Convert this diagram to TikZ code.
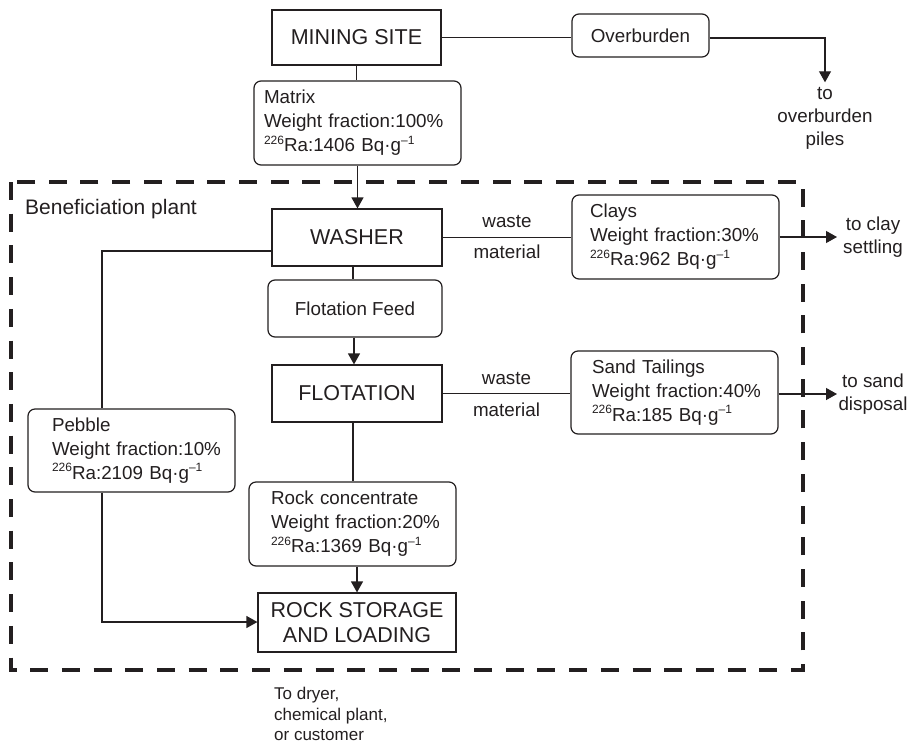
\documentclass[tikz,border=0pt]{standalone}
\usepackage{fontspec}
\setmainfont{Liberation Sans}
\usetikzlibrary{arrows.meta}
\definecolor{ink}{HTML}{231F20}
\newcommand\supr[1]{\raisebox{7.5pt}{\fontsize{12}{12}\selectfont #1}}
\begin{document}
\begin{tikzpicture}[x=1pt,y=-1pt,
  every node/.style={text=ink, font=\fontsize{18.8}{24}\selectfont},
  conn/.style={draw=ink, line width=1.2pt},
  arr/.style={conn, -{Triangle[length=11pt,width=12pt]}},
  sbox/.style={draw=ink, line width=1.2pt, fill=white, inner sep=0pt, align=center, font=\fontsize{21.5}{25}\selectfont},
  rbox/.style={draw=ink, line width=1.2pt, fill=white, rounded corners=7pt, inner ysep=0pt},
  tbox/.style={rbox, minimum width=207pt, text width=203pt, inner xsep=2pt, align=left},
  sidetext/.style={align=center, inner sep=0pt, font=\fontsize{18.8}{23}\selectfont},
  plant/.style={draw=ink, line width=4pt, dash pattern=on 18pt off 13.7pt},
]
\fill[white] (0,0) rectangle (915,745);
\useasboundingbox (0,0) rectangle (915,745);

% beneficiation plant boundary
\draw[plant] (11,182) rectangle (803,670);
\node[anchor=base west, inner sep=0pt, font=\fontsize{21}{25}\selectfont] (bp) at (25,214) {Beneficiation plant};

% nodes
\node[sbox, minimum width=169pt, minimum height=55pt] (mining) at (356.5,37.5) {MINING SITE};
\node[rbox, minimum width=137pt, minimum height=43pt] (over) at (640.5,35.5) {Overburden};
\node[sidetext] (tob) at (825,118.5) {to\\overburden\\piles};
\node[tbox, minimum height=84pt] (matrix) at (357.5,123) {\leftskip=8pt\relax Matrix\\Weight fraction:100\%\\\supr{226}Ra:1406 Bq·g\supr{–1}\par};
\node[sbox, minimum width=170pt, minimum height=57pt] (washer) at (357,237.5) {WASHER};
\node[tbox, minimum height=84pt] (clays) at (675.5,237) {\leftskip=16pt\relax Clays\\Weight fraction:30\%\\\supr{226}Ra:962 Bq·g\supr{–1}\par};
\node[sidetext] (toclay) at (873,237) {to clay\\settling};
\node[rbox, minimum width=174pt, minimum height=57pt] (ff) at (355,308.5) {Flotation Feed};
\node[sbox, minimum width=170pt, minimum height=57pt] (flot) at (357,393.5) {FLOTATION};
\node[tbox, minimum height=83pt] (sand) at (674.5,392.5) {\leftskip=19pt\relax Sand Tailings\\Weight fraction:40\%\\\supr{226}Ra:185 Bq·g\supr{–1}\par};
\node[sidetext] (tosand) at (873,394) {to sand\\disposal};
\node[tbox, minimum height=83pt] (pebble) at (131.5,450.5) {\leftskip=22pt\relax Pebble\\Weight fraction:10\%\\\supr{226}Ra:2109 Bq·g\supr{–1}\par};
\node[tbox, minimum height=84pt] (rc) at (352.5,524) {\leftskip=20pt\relax Rock concentrate\\Weight fraction:20\%\\\supr{226}Ra:1369 Bq·g\supr{–1}\par};
\node[sbox, minimum width=198pt, minimum height=59pt] (rs) at (357,622.5) {ROCK STORAGE\\AND LOADING};
\node[anchor=north west, align=left, inner sep=0pt, font=\fontsize{17}{20.5}\selectfont] (dest) at (274,687) {To dryer,\\chemical plant,\\or customer};

% helper coordinates
\coordinate (xa) at (353,0);
\coordinate (xb) at (354,0);
\coordinate (ot) at (825,38);
\coordinate (ct) at (837,237);
\coordinate (st) at (837,394);
\coordinate (pa) at (102,251);
\coordinate (pb) at (102,622);

% connectors
\draw[conn] (mining.south) -- (mining.south |- matrix.north);
\draw[arr] (matrix.south) -- (matrix.south |- washer.north);
\draw[conn] (mining.east) -- (mining.east -| over.west);
\draw[arr] (over.east |- ot) -- (ot) -- ([yshift=5pt]tob.north);

\draw[conn] (washer.east) -- (washer.east -| clays.west)
  node[pos=.5, anchor=base, yshift=10pt] (w1) {waste}
  node[pos=.5, anchor=base, yshift=-21pt] (m1) {material};
\draw[arr] (clays.east) -- (clays.east -| ct);

\draw[conn] (washer.south -| xa) -- (ff.north -| xa);
\draw[arr] (ff.south -| xb) -- (flot.north -| xb);

\draw[conn] (flot.east) -- (flot.east -| sand.west)
  node[pos=.5, anchor=base, yshift=9pt] (w2) {waste}
  node[pos=.5, anchor=base, yshift=-23pt] (m2) {material};
\draw[arr] (sand.east |- st) -- (st);

\draw[conn] (flot.south -| xa) -- (rc.north -| xa);
\draw[arr] (rc.south -| rs.north) -- (rs.north);

\draw[conn] (washer.west |- pa) -- (pa) -- (pebble.north -| pa);
\draw[arr] (pebble.south -| pb) -- (pb) -- (rs.west |- pb);
\end{tikzpicture}
\end{document}
